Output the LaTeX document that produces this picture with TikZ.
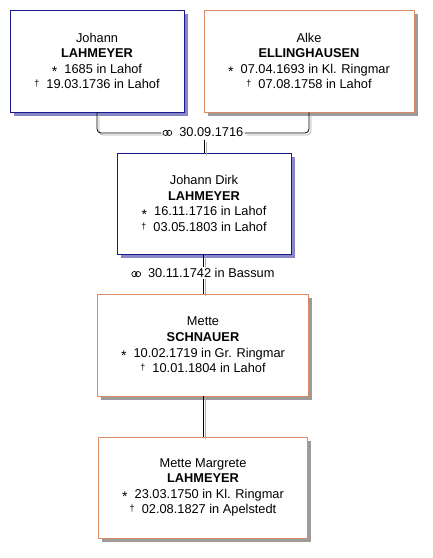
\documentclass[tikz,border=0pt]{standalone}
\usepackage{fontspec}
\setmainfont{Liberation Sans}
\definecolor{mblue}{RGB}{25,25,140}
\definecolor{mblueshadow}{RGB}{135,135,200}
\definecolor{morange}{RGB}{215,140,100}
\definecolor{mgrayshadow}{RGB}{155,155,155}
\definecolor{lshadow}{RGB}{175,175,175}
\newcommand{\born}{{\fontsize{14}{14}\selectfont\raisebox{-3.5pt}{*}}\ \ }
\newcommand{\died}{{\fontsize{9}{9}\selectfont\raisebox{2pt}{†}}\ \ }
\newcommand{\marr}{\tikz[x=1pt,y=1pt,baseline=-3.5pt]{\draw[line width=0.7pt] (2.8,0) circle[radius=2.6] (6.4,0) circle[radius=2.6];}}
\tikzset{
  person/.style={draw, line width=0.9pt, fill=white, align=center, inner sep=0pt,
    font=\fontsize{12.8}{15.6}\selectfont},
  male/.style={person, draw=mblue},
  female/.style={person, draw=morange},
  conn/.style={draw=black, line width=0.8pt, rounded corners=4pt,
    preaction={draw=lshadow, line width=0.8pt, transform canvas={shift={(2pt,-2pt)}}}},
  mlabel/.style={inner sep=1pt, fill=white, font=\fontsize{12.8}{14}\selectfont}
}
\begin{document}
\begin{tikzpicture}[x=1pt,y=-1pt]
\useasboundingbox (0,0) rectangle (433,558);
% shadows
\fill[mblueshadow] (14,14) rectangle (188,116);
\fill[mgrayshadow] (208,14) rectangle (418,116);
\fill[mblueshadow] (121,157) rectangle (295,258);
\fill[mgrayshadow] (101,298) rectangle (312,400);
\fill[mgrayshadow] (102,441) rectangle (311,542);
% persons
\node[male, minimum width=174, minimum height=102] (b1) at (97,61)
  {Johann\\\textbf{LAHMEYER}\\\born 1685 in Lahof\\\died 19.03.1736 in Lahof};
\node[female, minimum width=210, minimum height=102] (b2) at (309,61)
  {Alke\\\textbf{ELLINGHAUSEN}\\\born 07.04.1693 in Kl. Ringmar\\\died 07.08.1758 in Lahof};
\node[male, minimum width=174, minimum height=101] (b3) at (204,203.5)
  {Johann Dirk\\\textbf{LAHMEYER}\\\born 16.11.1716 in Lahof\\\died 03.05.1803 in Lahof};
\node[female, minimum width=211, minimum height=102] (b4) at (203,345)
  {Mette\\\textbf{SCHNAUER}\\\born 10.02.1719 in Gr. Ringmar\\\died 10.01.1804 in Lahof};
\node[female, minimum width=209, minimum height=101] (b5) at (203,487.5)
  {Mette Margrete\\\textbf{LAHMEYER}\\\born 23.03.1750 in Kl. Ringmar\\\died 02.08.1827 in Apelstedt};
% marriage 1
\node[mlabel] (m1) at (203,132) {\marr\ \ 30.09.1716};
\coordinate (c1) at (97,133);
\coordinate (c2) at (309,133);
\draw[conn] (b1.south) -- (c1) -- (m1.west |- c1);
\draw[conn] (m1.east |- c2) -- (c2) -- (b2.south);
\coordinate (d1) at (204,140);
\draw[conn] (d1) -- (b3.north);
% marriage 2
\draw[conn] (b3.south -| 203,0) -- (b4.north -| 203,0);
\node[mlabel] (m2) at (203,273) {\marr\ \ 30.11.1742 in Bassum};
% child
\draw[conn] (b4.south -| 203,0) -- (b5.north -| 203,0);
\end{tikzpicture}
\end{document}
